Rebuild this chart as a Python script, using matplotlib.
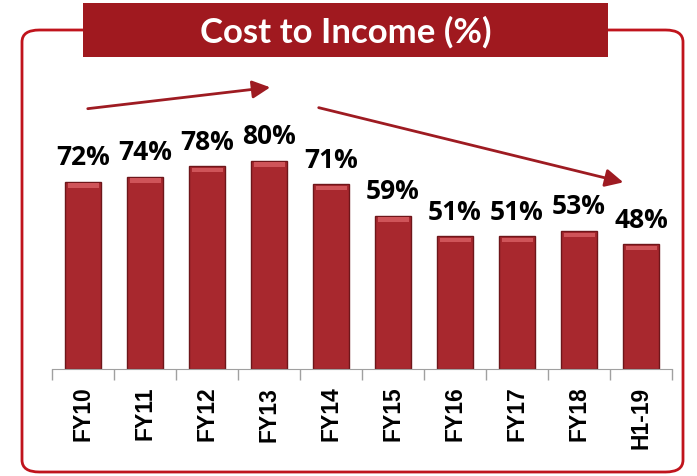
import matplotlib.pyplot as plt
from matplotlib.patches import FancyBboxPatch, Rectangle, FancyArrowPatch
import numpy as np

# data
years = ['FY10', 'FY11', 'FY12', 'FY13', 'FY14', 'FY15', 'FY16', 'FY17', 'FY18', 'H1-19']
cost_to_income = [72, 74, 78, 80, 71, 59, 51, 51, 53, 48]

W, H = 697, 477
fig = plt.figure(figsize=(W / 100, H / 100), dpi=100)

# rounded red frame
frame = FancyBboxPatch((22 / W, 4 / H), 661 / W, 442 / H,
                       boxstyle='round,pad=0,rounding_size=0.025',
                       transform=fig.transFigure, facecolor='none',
                       edgecolor='#c0141c', linewidth=2)
fig.patches.append(frame)

# title box
fig.patches.append(Rectangle((83 / W, 1 - 58 / H), 525 / W, 54 / H,
                             transform=fig.transFigure, facecolor='#a0191f',
                             edgecolor='none'))
fig.text(346 / W, 1 - 32 / H, 'Cost to Income (%)', color='white',
         fontsize=25, fontweight='bold', family='Lato', ha='center', va='center')

ax = fig.add_axes([52 / W, 107 / H, 620 / W, 260 / H])
x = np.arange(len(years))
bars = ax.bar(x, cost_to_income, width=0.58, color='#a8282e',
              edgecolor='#6e161a', linewidth=1.0, zorder=2)
# lighter top bevel
ax.bar(x, 1.8, width=0.5, bottom=np.array(cost_to_income) - 2.3,
       color='#cf5459', edgecolor='none', zorder=3)

for xi, v in zip(x, cost_to_income):
    ax.text(xi, v + 4.5, f'{v}%', ha='center', va='bottom', fontsize=19,
            fontweight='bold', family='Open Sans')

ax.set_xlim(-0.5, len(years) - 0.5)
ax.set_ylim(0, 100)
ax.set_xticks(x)
ax.set_xticklabels(years, rotation=90, fontsize=16.5, fontweight='bold',
                   family='Liberation Sans')
ax.tick_params(axis='x', which='major', length=0, pad=12)
ax.set_xticks(np.arange(-0.5, len(years)), minor=True)
ax.tick_params(axis='x', which='minor', length=8, color='#a0a0a0', width=1)
ax.set_yticks([])
for s in ['top', 'right', 'left']:
    ax.spines[s].set_visible(False)
ax.spines['bottom'].set_color('#a0a0a0')
ax.set_facecolor('none')

# trend arrows
arrow_kw = dict(arrowstyle='-|>,head_length=0.9,head_width=0.45',
                color='#9e1b22', lw=2)
fig.add_artist(FancyArrowPatch((85 / W, 1 - 110 / H), (273 / W, 1 - 88 / H),
                               transform=fig.transFigure, mutation_scale=12, **arrow_kw))
fig.add_artist(FancyArrowPatch((316 / W, 1 - 108 / H), (626 / W, 1 - 184 / H),
                               transform=fig.transFigure, mutation_scale=12, **arrow_kw))

plt.savefig('out.png', dpi=100)
plt.close()
